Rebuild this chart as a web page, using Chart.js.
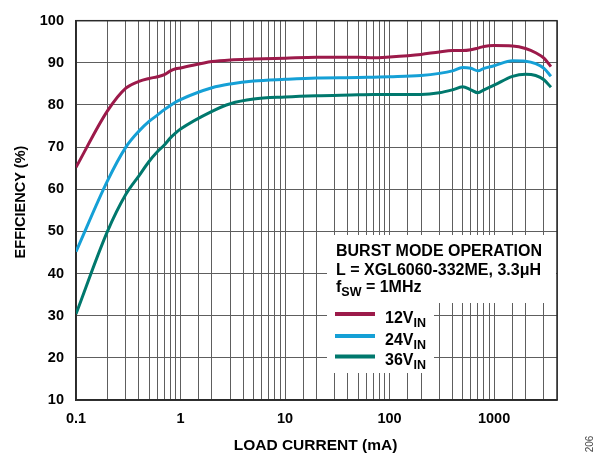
<!DOCTYPE html>
<html>
<head>
<meta charset="utf-8">
<script src="https://cdn.jsdelivr.net/npm/chart.js@4/dist/chart.umd.min.js"></script>
<style>
  html, body { margin: 0; padding: 0; background: #fff; }
  #wrap { position: relative; width: 612px; height: 455px; }
</style>
</head>
<body>
<div id="wrap"><canvas id="eff"></canvas></div>
<script>
// load current sample points (mA), shared by all three curves
const loadCurrent = [0.1, 0.2, 0.3, 0.4, 0.5, 0.6, 0.7, 0.8, 0.9, 1, 2, 3, 5, 10, 20, 50, 70,
    100, 200, 300, 400, 500, 600, 700, 800, 1000, 1500, 2000, 2500, 3000, 3500];

// efficiency (%) per input voltage
const eff12 = [65.2, 78.6, 84.0, 85.6, 86.3, 86.7, 87.2, 88.1, 88.6, 88.8, 90.3, 90.7, 90.9, 91.1, 91.3, 91.3, 91.2,
    91.4, 92.0, 92.6, 92.9, 92.9, 93.1, 93.5, 93.9, 94.1, 94.0, 93.4, 92.4, 91.1, 89.1];
const eff24 = [45.2, 62.0, 70.0, 73.8, 76.1, 77.6, 78.9, 79.9, 80.7, 81.3, 84.1, 85.0, 85.7, 86.1, 86.4, 86.5, 86.6,
    86.7, 87.0, 87.5, 88.1, 88.9, 88.7, 88.1, 88.7, 89.3, 90.5, 90.4, 89.8, 88.7, 86.8];
const eff36 = [30.4, 50.0, 58.8, 63.2, 66.6, 68.9, 70.5, 72.2, 73.4, 74.3, 78.5, 80.3, 81.4, 81.9, 82.2, 82.4, 82.5,
    82.5, 82.5, 82.9, 83.6, 84.3, 83.6, 82.9, 83.6, 84.7, 86.8, 87.3, 87.0, 86.0, 84.2];

const seriesNames = ['12V', '24V', '36V'];
const yTicks = [10, 20, 30, 40, 50, 60, 70, 80, 90, 100];
const xLabelTicks = [0.1, 1, 10, 100, 1000];

const COLORS = { v12: '#9c1a4a', v24: '#15a0d6', v36: '#00786d', grid: '#5e5e5e', frame: '#2a2a2a' };
const FONT = '"Liberation Sans", Arial, Helvetica, sans-serif';

const pts = (ys) => loadCurrent.map((x, i) => ({ x, y: ys[i] }));
const mkLine = (label, ys, color) => ({
    label, data: pts(ys),
    borderColor: color, backgroundColor: color,
    borderWidth: 3, pointRadius: 0,
    cubicInterpolationMode: 'monotone', fill: false,
});

// text with a subscript part, e.g. V + IN
function drawSub(ctx, x, y, main, sub, size, subSize, drop) {
    ctx.font = `bold ${size}px ${FONT}`;
    ctx.fillText(main, x, y);
    const w = ctx.measureText(main).width;
    ctx.font = `bold ${subSize}px ${FONT}`;
    ctx.fillText(sub, x + w, y + drop);
    return x + w + ctx.measureText(sub).width;
}

const notePlugin = {
    id: 'notes',
    beforeDatasetsDraw(chart) {
        const ctx = chart.ctx, a = chart.chartArea;
        ctx.save();
        // blank area behind the condition text and legend
        ctx.fillStyle = '#fff';
        ctx.fillRect(327, 235, a.right - 327 - 1, 68);
        ctx.fillRect(327, 303, 107, 70);
        // plot frame
        ctx.strokeStyle = COLORS.frame;
        ctx.lineWidth = 1.5;
        ctx.strokeRect(a.left, a.top, a.right - a.left, a.bottom - a.top);
        ctx.restore();
    },
    afterDraw(chart) {
        const ctx = chart.ctx, a = chart.chartArea;
        ctx.save();
        ctx.fillStyle = '#000';
        ctx.textBaseline = 'alphabetic';
        ctx.textAlign = 'left';

        ctx.font = `bold 16px ${FONT}`;
        ctx.fillText('BURST MODE OPERATION', 336, 256);
        ctx.fillText('L = XGL6060-332ME, 3.3μH', 336, 275);
        const fx = drawSub(ctx, 336, 291.5, 'f', 'SW', 16, 12.5, 4);
        ctx.font = `bold 16px ${FONT}`;
        ctx.fillText(' = 1MHz', fx, 291.5);

        // legend
        const rows = [
            { c: COLORS.v12, y: 314, base: 323 },
            { c: COLORS.v24, y: 336, base: 345 },
            { c: COLORS.v36, y: 356.5, base: 365 },
        ];
        rows.forEach((r, i) => {
            ctx.strokeStyle = r.c;
            ctx.lineWidth = 4;
            ctx.beginPath();
            ctx.moveTo(335, r.y); ctx.lineTo(375, r.y);
            ctx.stroke();
            ctx.fillStyle = '#000';
            drawSub(ctx, 385, r.base, seriesNames[i], 'IN', 16, 12.5, 4);
        });

        // axis titles
        ctx.font = `bold 15.5px ${FONT}`;
        ctx.textAlign = 'center';
        ctx.textBaseline = 'middle';
        ctx.fillText('LOAD CURRENT (mA)', (a.left + a.right) / 2 - 1, 446);
        ctx.save();
        ctx.translate(21, 202);
        ctx.rotate(-Math.PI / 2);
        ctx.font = `bold 14.5px ${FONT}`;
        ctx.fillText('EFFICIENCY (%)', 0, 0);
        ctx.restore();

        ctx.save();
        ctx.translate(590, 444);
        ctx.rotate(-Math.PI / 2);
        ctx.font = `10px ${FONT}`;
        ctx.fillStyle = '#444';
        ctx.fillText('206', 0, 0);
        ctx.restore();
        ctx.restore();
    }
};

const isDecade = (v) => xLabelTicks.some(t => Math.abs(v - t) / t < 1e-6);

new Chart(document.getElementById('eff'), {
    type: 'line',
    data: {
        datasets: [
            mkLine('12VIN', eff12, COLORS.v12),
            mkLine('24VIN', eff24, COLORS.v24),
            mkLine('36VIN', eff36, COLORS.v36),
        ]
    },
    options: {
        responsive: true,
        maintainAspectRatio: false,
        animation: false,
        devicePixelRatio: 1,
        layout: { padding: { top: 15, right: 55, left: 0, bottom: 0 } },
        plugins: { legend: { display: false }, tooltip: { enabled: false } },
        scales: {
            x: {
                type: 'logarithmic',
                min: 0.1, max: 4000,
                afterFit: (s) => { s.height = 55; },
                grid: { color: COLORS.grid, lineWidth: 1, drawTicks: false },
                border: { color: COLORS.frame, width: 1.5 },
                ticks: {
                    autoSkip: false, maxRotation: 0, minRotation: 0, padding: 10,
                    color: '#000',
                    font: { family: FONT, size: 14.5, weight: 'bold' },
                    callback: (v) => isDecade(v) ? (v < 1 ? '0.1' : String(Math.round(v))) : '',
                },
            },
            y: {
                type: 'linear',
                min: yTicks[0], max: yTicks[yTicks.length - 1],
                afterFit: (s) => { s.width = 76; },
                afterBuildTicks: (s) => { s.ticks = yTicks.map(v => ({ value: v })); },
                grid: { color: COLORS.grid, lineWidth: 1, drawTicks: false },
                border: { color: COLORS.frame, width: 1.5 },
                ticks: {
                    padding: 12,
                    color: '#000',
                    font: { family: FONT, size: 14.5, weight: 'bold' },
                },
            },
        },
    },
    plugins: [notePlugin],
});
</script>
</body>
</html>
